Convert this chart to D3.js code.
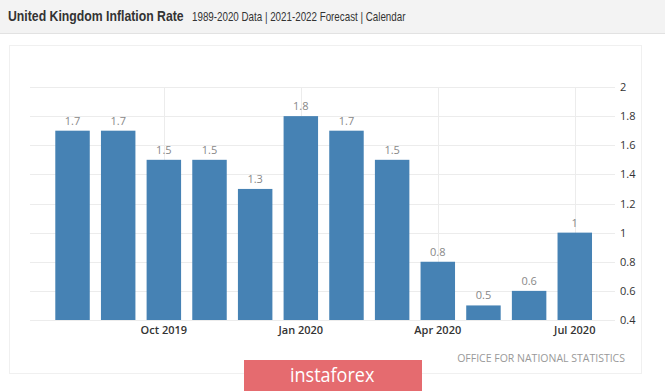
<!DOCTYPE html>
<html>
<head>
<meta charset="utf-8">
<script src="https://cdn.jsdelivr.net/npm/d3@7"></script>
<style>
body { margin: 0; background: #fff; }
svg { display: block; }
.grid line { stroke: #ececec; stroke-width: 1; }
.axis text { font-family: "Open Sans", sans-serif; font-size: 11px; fill: #333; }
.xlab { font-family: "Open Sans", sans-serif; font-size: 11px; font-weight: 600; fill: #333; }
.vlab { font-family: "Open Sans", sans-serif; font-size: 11px; fill: #888; }
</style>
</head>
<body>
<div id="container"></div>
<script>
//months shown on the chart
var months = ["Aug 2019","Sep 2019","Oct 2019","Nov 2019","Dec 2019","Jan 2020","Feb 2020","Mar 2020","Apr 2020","May 2020","Jun 2020","Jul 2020"];
//inflation rate, percent
var rates = [1.7, 1.7, 1.5, 1.5, 1.3, 1.8, 1.7, 1.5, 0.8, 0.5, 0.6, 1.0];
//labelled months on x axis
var xTicks = ["Oct 2019","Jan 2020","Apr 2020","Jul 2020"];
var xTickLabels = ["Oct 2019","Jan 2020","Apr 2020","Jul 2020"];
//y axis ticks
var yTicks = [0.4, 0.6, 0.8, 1.0, 1.2, 1.4, 1.6, 1.8, 2.0];

(function(){
    var width = 665,
        height = 391;

    var svg = d3.select("#container")
        .append("svg")
        .attr("width", width)
        .attr("height", height);

    //header band
    svg.append("rect")
        .attr("width", width)
        .attr("height", 33)
        .attr("fill", "#f3f3f3");
    svg.append("line")
        .attr("x1", 0).attr("x2", width)
        .attr("y1", 33.5).attr("y2", 33.5)
        .attr("stroke", "#e2e2e2");
    //condensed header texts
    svg.append("text")
        .attr("transform", "translate(8,21) scale(0.818,1)")
        .style("font-family", "Liberation Sans, Arial, sans-serif")
        .style("font-size", "15px")
        .style("font-weight", "bold")
        .attr("fill", "#333")
        .text("United Kingdom Inflation Rate");
    svg.append("text")
        .attr("transform", "translate(192,20.5) scale(0.817,1)")
        .style("font-family", "Liberation Sans, Arial, sans-serif")
        .style("font-size", "12px")
        .attr("fill", "#333")
        .text("1989-2020 Data | 2021-2022 Forecast | Calendar");

    //faint chart panel
    svg.append("rect")
        .attr("x", 9.5).attr("y", 45.5)
        .attr("width", 632).attr("height", 328)
        .attr("fill", "none")
        .attr("stroke", "#f0f0f0");

    var left = 30, right = 615, top = 87, bottom = 320;

    var x = d3.scaleBand()
        .domain(months)
        .range([49.7, 597.6])
        .paddingInner(0.245)
        .paddingOuter(0.1225);

    var y = d3.scaleLinear()
        .domain([0.4, 2])
        .range([bottom, top]);

    //horizontal gridlines
    svg.append("g")
        .attr("class", "grid")
        .selectAll("line")
        .data(yTicks)
        .enter()
        .append("line")
        .attr("x1", left).attr("x2", right)
        .attr("y1", function(d){ return Math.round(y(d)) + 0.5; })
        .attr("y2", function(d){ return Math.round(y(d)) + 0.5; });

    //vertical gridlines at labelled months
    svg.append("g")
        .attr("class", "grid")
        .selectAll("line")
        .data(xTicks)
        .enter()
        .append("line")
        .attr("x1", function(d){ return Math.round(x(d) + x.bandwidth() / 2) + 0.5; })
        .attr("x2", function(d){ return Math.round(x(d) + x.bandwidth() / 2) + 0.5; })
        .attr("y1", top).attr("y2", bottom);

    //bars
    svg.selectAll(".bar")
        .data(rates)
        .enter()
        .append("rect")
        .attr("class", "bar")
        .attr("x", function(d, i){ return x(months[i]); })
        .attr("width", x.bandwidth())
        .attr("y", function(d){ return y(d); })
        .attr("height", function(d){ return bottom - y(d); })
        .attr("fill", "#4682b4");

    //value labels
    svg.selectAll(".vlab")
        .data(rates)
        .enter()
        .append("text")
        .attr("class", "vlab")
        .attr("text-anchor", "middle")
        .attr("x", function(d, i){ return x(months[i]) + x.bandwidth() / 2; })
        .attr("y", function(d){ return y(d) - 6; })
        .text(function(d){ return String(+d.toFixed(1)); });

    //right y axis
    var yAxis = d3.axisRight(y)
        .tickValues(yTicks)
        .tickSize(0)
        .tickPadding(5)
        .tickFormat(function(d){ return String(+d.toFixed(1)); });
    var ya = svg.append("g")
        .attr("class", "axis")
        .attr("transform", "translate(" + right + ",0)")
        .call(yAxis);
    ya.select(".domain").remove();

    //x labels
    svg.selectAll(".xlab")
        .data(xTicks)
        .enter()
        .append("text")
        .attr("class", "xlab")
        .attr("text-anchor", "middle")
        .attr("x", function(d){ return x(d) + x.bandwidth() / 2; })
        .attr("y", 334)
        .text(function(d, i){ return xTickLabels[i]; });

    //source
    svg.append("text")
        .attr("x", 625).attr("y", 362)
        .attr("text-anchor", "end")
        .style("font-family", "Open Sans, sans-serif")
        .style("font-size", "10.5px")
        .attr("fill", "#999")
        .text("OFFICE FOR NATIONAL STATISTICS");

    //watermark
    svg.append("rect")
        .attr("x", 244).attr("y", 360)
        .attr("width", 178).attr("height", 31)
        .attr("fill", "#e56b6f");
    svg.append("text")
        .attr("transform", "translate(290,382) scale(0.9,1)")
        .style("font-family", "Open Sans, sans-serif")
        .style("font-size", "20px")
        .attr("fill", "#fff")
        .text("instaforex");
})();
</script>
</body>
</html>
